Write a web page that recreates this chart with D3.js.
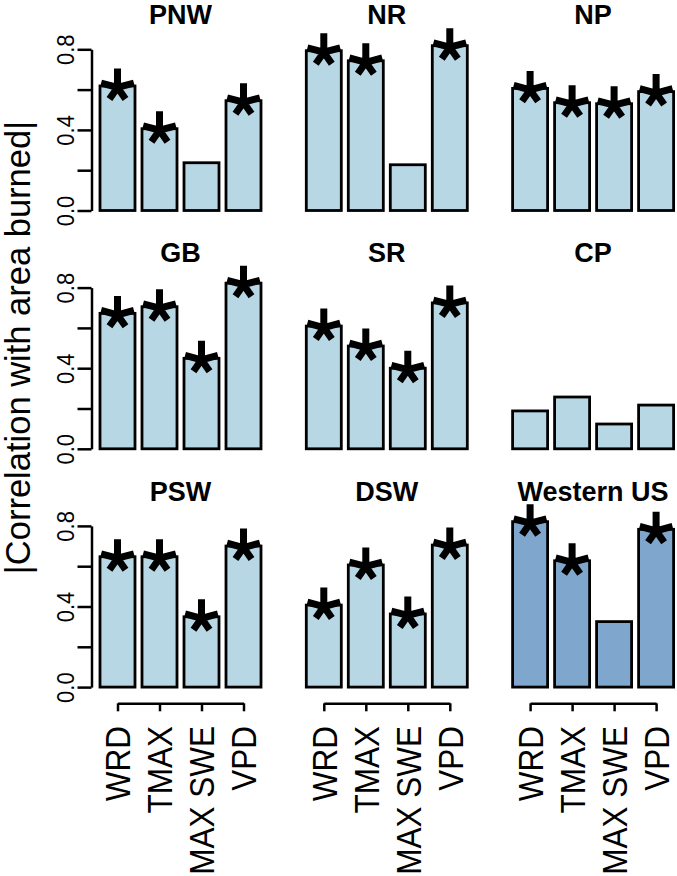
<!DOCTYPE html>
<html>
<head>
<meta charset="utf-8">
<script src="https://cdn.jsdelivr.net/npm/d3@7"></script>
<style>
  body { margin: 0; background: #fff; }
  text { font-family: "Liberation Sans", Arial, Helvetica, sans-serif; }
</style>
</head>
<body>
<svg id="chart" width="677" height="876"></svg>
<script>
// ---------------- data ----------------
const regions = ["PNW", "NR", "NP", "GB", "SR", "CP", "PSW", "DSW", "Western US"];
const variables = ["WRD", "TMAX", "MAX SWE", "VPD"];

const corrPNW = [0.618, 0.406, 0.237, 0.545];
const corrNR  = [0.793, 0.743, 0.227, 0.818];
const corrNP  = [0.606, 0.535, 0.530, 0.590];
const corrGB  = [0.672, 0.705, 0.449, 0.822];
const corrSR  = [0.609, 0.510, 0.400, 0.724];
const corrCP  = [0.188, 0.257, 0.123, 0.217];
const corrPSW = [0.647, 0.647, 0.349, 0.700];
const corrDSW = [0.407, 0.606, 0.363, 0.705];
const corrWUS = [0.821, 0.627, 0.325, 0.783];

const sigPNW = [1, 1, 0, 1];
const sigNR  = [1, 1, 0, 1];
const sigNP  = [1, 1, 1, 1];
const sigGB  = [1, 1, 1, 1];
const sigSR  = [1, 1, 1, 1];
const sigCP  = [0, 0, 0, 0];
const sigPSW = [1, 1, 1, 1];
const sigDSW = [1, 1, 1, 1];
const sigWUS = [1, 1, 0, 1];

const yTicks = [0, 0.2, 0.4, 0.6, 0.8];
const yTickLabels = ["0.0", "", "0.4", "", "0.8"];
const yLabel = "|Correlation with area burned|";
const highlightRegion = "Western US";

// ---------------- build table ----------------
const corrList = [corrPNW, corrNR, corrNP, corrGB, corrSR, corrCP, corrPSW, corrDSW, corrWUS];
const sigList = [sigPNW, sigNR, sigNP, sigGB, sigSR, sigCP, sigPSW, sigDSW, sigWUS];
const panels = regions.map((r, i) => ({
  region: r,
  bars: variables.map((v, j) => ({ variable: v, value: corrList[i][j], sig: sigList[i][j] }))
}));

// ---------------- layout / style ----------------
const colStep = 206.3, rowStep = 238.3;
const lightFill = "#B8D7E5", darkFill = "#7FA6CD";
const stretch = 1.1;

const svg = d3.select("#chart");
svg.append("rect").attr("width", 677).attr("height", 876).attr("fill", "#fff");

const x = d3.scaleBand().domain(variables).range([96.5, 264.5]).paddingInner(1 / 6).paddingOuter(1 / 12);
const y = d3.scaleLinear().domain([0, 0.8]).range([210.5, 49.3]);
const xp = d3.scalePoint().domain(variables)
  .range([x(variables[0]) + x.bandwidth() / 2, x(variables[variables.length - 1]) + x.bandwidth() / 2]);

// asterisk arms: [angle in degrees, length]
const arms = [[-90, 19], [-15, 17], [-165, 17], [55, 14], [125, 14]];
function asteriskPath() {
  return arms.map(([a, L]) => {
    const r = a * Math.PI / 180;
    return `M0,0L${(L * Math.cos(r)).toFixed(2)},${(L * Math.sin(r)).toFixed(2)}`;
  }).join("");
}

panels.forEach((p, i) => {
  const col = i % 3, row = Math.floor(i / 3);
  const g = svg.append("g").attr("transform", `translate(${col * colStep},${row * rowStep})`);
  const fill = p.region === highlightRegion ? darkFill : lightFill;

  // bars
  g.selectAll("rect.bar").data(p.bars).join("rect")
    .attr("class", "bar")
    .attr("x", d => x(d.variable))
    .attr("width", x.bandwidth())
    .attr("y", d => y(d.value))
    .attr("height", d => y(0) - y(d.value))
    .attr("fill", fill)
    .attr("stroke", "#000")
    .attr("stroke-width", 2.8);

  // asterisks
  g.selectAll("path.star").data(p.bars.filter(d => d.sig)).join("path")
    .attr("class", "star")
    .attr("transform", d => `translate(${x(d.variable) + x.bandwidth() / 2},${y(d.value) + 1.5})`)
    .attr("d", asteriskPath())
    .attr("fill", "none")
    .attr("stroke", "#000")
    .attr("stroke-width", 7);

  // title
  g.append("text")
    .attr("x", (x.range()[0] + x.range()[1]) / 2)
    .attr("y", 24)
    .attr("text-anchor", "middle")
    .attr("font-weight", "bold")
    .attr("font-size", 27)
    .text(p.region);

  // y axis (left column)
  if (col === 0) {
    const ay = g.append("g")
      .attr("transform", "translate(91.5,0)")
      .call(d3.axisLeft(y).tickValues(yTicks).tickSize(14).tickSizeOuter(0)
        .tickFormat((d, k) => yTickLabels[k]));
    ay.attr("font-family", null).attr("font-size", null).attr("color", "#000");
    ay.select(".domain").attr("stroke-width", 2.5);
    ay.selectAll(".tick line").attr("stroke-width", 2.5);
    ay.selectAll(".tick text")
      .attr("x", null).attr("dy", null)
      .attr("fill", "#000")
      .attr("font-size", 22)
      .attr("text-anchor", "middle")
      .attr("transform", `translate(${74 - 91.5},0) scale(${stretch},1) rotate(-90)`);
  }

  // x axis (bottom row)
  if (row === 2) {
    const axisY = 226.7;
    const ax = g.append("g")
      .attr("transform", `translate(0,${axisY})`)
      .call(d3.axisBottom(xp).tickSize(8).tickSizeOuter(0));
    ax.attr("font-family", null).attr("font-size", null).attr("color", "#000");
    ax.select(".domain").attr("stroke-width", 2.5);
    ax.selectAll(".tick line").attr("stroke-width", 2.5);
    ax.selectAll(".tick text")
      .attr("y", null)
      .attr("dy", "0.36em")
      .attr("fill", "#000")
      .attr("font-size", 31.5)
      .attr("text-anchor", "end")
      .attr("transform", `translate(0,22.7) scale(${stretch},1) rotate(-90)`);
  }
});

// y axis label
svg.append("text")
  .attr("transform", "translate(30,347.5) rotate(-90)")
  .attr("text-anchor", "middle")
  .attr("font-size", 34.5)
  .text(yLabel);
</script>
</body>
</html>
